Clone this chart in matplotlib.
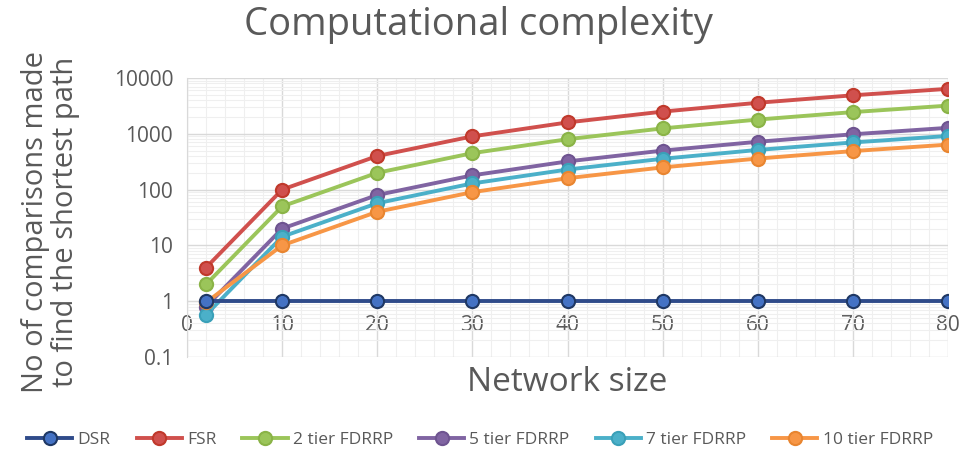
import matplotlib
matplotlib.use("Agg")
import matplotlib.pyplot as plt
from matplotlib.ticker import FixedLocator, LogLocator, NullFormatter, MultipleLocator

network_size = [2, 10, 20, 30, 40, 50, 60, 70, 80]
dsr = [1, 1, 1, 1, 1, 1, 1, 1, 1]
fsr = [4, 100, 400, 900, 1600, 2500, 3600, 4900, 6400]
tier2 = [2, 50, 200, 450, 800, 1250, 1800, 2450, 3200]
tier5 = [0.8, 20, 80, 180, 320, 500, 720, 980, 1280]
tier7 = [0.57, 14.3, 57, 129, 229, 357, 514, 700, 914]
tier10 = [0.95, 10, 40, 90, 160, 250, 360, 490, 640]

series_names = ["DSR", "FSR", "2 tier FDRRP", "5 tier FDRRP", "7 tier FDRRP", "10 tier FDRRP"]
x_ticks = [0, 10, 20, 30, 40, 50, 60, 70, 80]
y_ticks = [0.1, 1, 10, 100, 1000, 10000]
y_tick_labels = ["0.1", "1", "10", "100", "1000", "10000"]

plt.rcParams['font.family'] = ['Open Sans', 'DejaVu Sans']
text_color = "#595959"

fig = plt.figure(figsize=(9.66, 4.63), dpi=100)
ax = fig.add_axes([0.1936, 0.229, 0.7878, 0.6025])

styles = [
    ("#2F4B8A", "#4472C4", "#1F3864"),
    ("#D0504D", "#D0504D", "#C0392B"),
    ("#9BC55A", "#9BC55A", "#8AB347"),
    ("#8064A2", "#8064A2", "#6E5490"),
    ("#4BB0C9", "#4BB0C9", "#3AA0B8"),
    ("#F79646", "#F79646", "#E88530"),
]
data = [dsr, fsr, tier2, tier5, tier7, tier10]
order = [1, 2, 3, 4, 5, 0]
handles = {}
for i in order:
    lc, fc, ec = styles[i]
    h, = ax.plot(network_size, data[i], color=lc, lw=2.8, marker='o', markersize=9.5,
                 markerfacecolor=fc, markeredgecolor=ec, markeredgewidth=1.5,
                 label=series_names[i], zorder=3 + (1 if i == 0 else 0))
    handles[i] = h

ax.set_yscale('log')
ax.set_ylim(0.1, 10000)
ax.set_xlim(0, 80)

ax.yaxis.set_major_locator(FixedLocator(y_ticks))
ax.set_yticklabels(y_tick_labels)
ax.yaxis.set_minor_locator(LogLocator(base=10, subs=range(2, 10)))
ax.yaxis.set_minor_formatter(NullFormatter())
ax.xaxis.set_major_locator(FixedLocator(x_ticks))
ax.xaxis.set_minor_locator(MultipleLocator(2))

ax.grid(which='major', color='#D9D9D9', lw=1.0)
ax.grid(which='minor', color='#EFEFEF', lw=0.8)
ax.set_axisbelow(True)

for s in ['top', 'right']:
    ax.spines[s].set_visible(False)
ax.spines['left'].set_color('#D9D9D9')
ax.spines['bottom'].set_position(('data', 1))
ax.spines['bottom'].set_color('#D9D9D9')

ax.tick_params(axis='both', which='both', length=0, labelsize=15, labelcolor=text_color)
ax.tick_params(axis='x', pad=10)
ax.tick_params(axis='y', pad=10)

fig.text(0.495, 0.945, "Computational complexity", ha='center', va='center',
         fontsize=27.5, color=text_color)
fig.text(0.587, 0.173, "Network size", ha='center', va='center', fontsize=24, color=text_color)
fig.text(0.052, 0.52, "No of comparisons made\nto find the shortest path", ha='center', va='center',
         fontsize=21, color=text_color, rotation=90, linespacing=1.05)

leg = fig.legend([handles[i] for i in range(6)], series_names, loc='center', ncol=6,
                 bbox_to_anchor=(0.497, 0.05), frameon=False, fontsize=12.5,
                 labelcolor=text_color, handlelength=2.6, columnspacing=1.5, handletextpad=0.3)

fig.savefig("out.png", dpi=100)
